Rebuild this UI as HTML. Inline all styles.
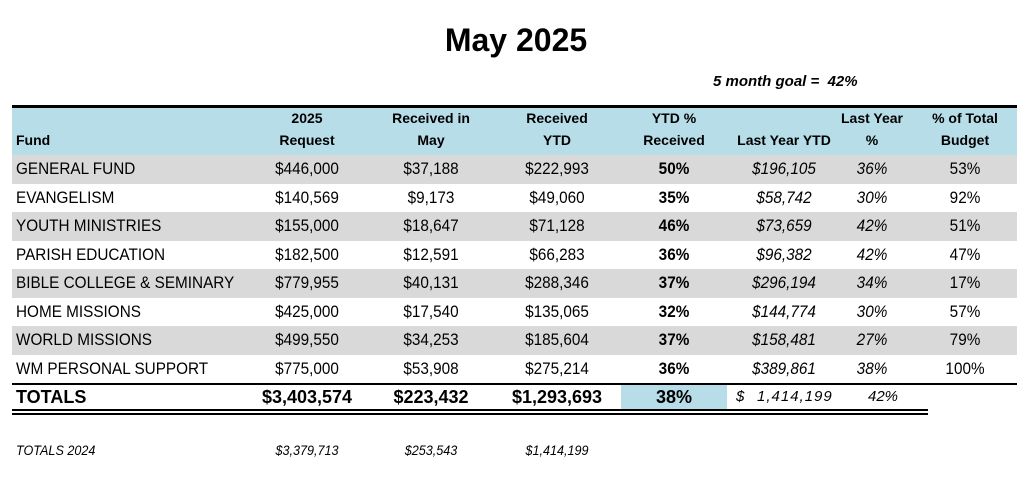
<!DOCTYPE html>
<html><head><meta charset="utf-8"><style>
body{margin:0;width:1032px;height:477px;background:#fff;position:relative;overflow:hidden;font-family:"Liberation Sans",sans-serif;}
.a{position:absolute;white-space:nowrap}
.t{position:absolute;left:0;width:1032px;text-align:center;top:22px;font:bold 32px "Liberation Sans",sans-serif}
.row{position:absolute;left:12px;width:1005px;height:28.5px}
.c{position:absolute;top:0;line-height:28.5px;font-size:17px;white-space:nowrap;transform:translateX(-50%) scaleX(.9)}
.l{position:absolute;top:0;left:4px;line-height:28.5px;font-size:17px;white-space:nowrap;transform:scaleX(.9);transform-origin:left}
.h{position:absolute;font:bold 14px "Liberation Sans",sans-serif;text-align:center;line-height:22px;transform:translateX(-50%)}
</style></head><body>
<div class="t">May 2025</div>
<div class="a" style="left:713px;top:73px;font:italic bold 15px 'Liberation Sans',sans-serif">5 month goal =&nbsp; 42%</div>
<div class="a" style="left:12px;top:105px;width:1005px;height:49px;background:#b7dde8;border-top:3px solid #000;border-bottom:3px solid #000"></div>
<div class="h" style="left:16px;top:129px;transform:none">Fund</div>
<div class="h" style="left:307px;top:107px">2025<br>Request</div>
<div class="h" style="left:431px;top:107px">Received in<br>May</div>
<div class="h" style="left:557px;top:107px">Received<br>YTD</div>
<div class="h" style="left:674px;top:107px">YTD %<br>Received</div>
<div class="h" style="left:784px;top:129px">Last Year YTD</div>
<div class="h" style="left:872px;top:107px">Last Year<br>%</div>
<div class="h" style="left:965px;top:107px">% of Total<br>Budget</div>

<div class="row" style="top:155px;background:#d9d9d9"></div>
<div class="row" style="top:212px;background:#d9d9d9"></div>
<div class="row" style="top:269px;background:#d9d9d9"></div>
<div class="row" style="top:326px;background:#d9d9d9"></div>

<div style="position:absolute;left:0;top:155px">
<div class="row" style="top:0"><span class="l">GENERAL FUND</span><span class="c" style="left:295px">$446,000</span><span class="c" style="left:419px">$37,188</span><span class="c" style="left:545px">$222,993</span><b class="c" style="left:662px">50%</b><i class="c" style="left:772px">$196,105</i><i class="c" style="left:860px">36%</i><span class="c" style="left:953px">53%</span></div>
<div class="row" style="top:28.5px"><span class="l">EVANGELISM</span><span class="c" style="left:295px">$140,569</span><span class="c" style="left:419px">$9,173</span><span class="c" style="left:545px">$49,060</span><b class="c" style="left:662px">35%</b><i class="c" style="left:772px">$58,742</i><i class="c" style="left:860px">30%</i><span class="c" style="left:953px">92%</span></div>
<div class="row" style="top:57px"><span class="l">YOUTH MINISTRIES</span><span class="c" style="left:295px">$155,000</span><span class="c" style="left:419px">$18,647</span><span class="c" style="left:545px">$71,128</span><b class="c" style="left:662px">46%</b><i class="c" style="left:772px">$73,659</i><i class="c" style="left:860px">42%</i><span class="c" style="left:953px">51%</span></div>
<div class="row" style="top:85.5px"><span class="l">PARISH EDUCATION</span><span class="c" style="left:295px">$182,500</span><span class="c" style="left:419px">$12,591</span><span class="c" style="left:545px">$66,283</span><b class="c" style="left:662px">36%</b><i class="c" style="left:772px">$96,382</i><i class="c" style="left:860px">42%</i><span class="c" style="left:953px">47%</span></div>
<div class="row" style="top:114px"><span class="l">BIBLE COLLEGE &amp; SEMINARY</span><span class="c" style="left:295px">$779,955</span><span class="c" style="left:419px">$40,131</span><span class="c" style="left:545px">$288,346</span><b class="c" style="left:662px">37%</b><i class="c" style="left:772px">$296,194</i><i class="c" style="left:860px">34%</i><span class="c" style="left:953px">17%</span></div>
<div class="row" style="top:142.5px"><span class="l">HOME MISSIONS</span><span class="c" style="left:295px">$425,000</span><span class="c" style="left:419px">$17,540</span><span class="c" style="left:545px">$135,065</span><b class="c" style="left:662px">32%</b><i class="c" style="left:772px">$144,774</i><i class="c" style="left:860px">30%</i><span class="c" style="left:953px">57%</span></div>
<div class="row" style="top:171px"><span class="l">WORLD MISSIONS</span><span class="c" style="left:295px">$499,550</span><span class="c" style="left:419px">$34,253</span><span class="c" style="left:545px">$185,604</span><b class="c" style="left:662px">37%</b><i class="c" style="left:772px">$158,481</i><i class="c" style="left:860px">27%</i><span class="c" style="left:953px">79%</span></div>
<div class="row" style="top:199.5px"><span class="l">WM PERSONAL SUPPORT</span><span class="c" style="left:295px">$775,000</span><span class="c" style="left:419px">$53,908</span><span class="c" style="left:545px">$275,214</span><b class="c" style="left:662px">36%</b><i class="c" style="left:772px">$389,861</i><i class="c" style="left:860px">38%</i><span class="c" style="left:953px">100%</span></div>
</div>

<div class="a" style="left:12px;top:383px;width:1005px;border-top:2px solid #000"></div>
<div class="a" style="left:621px;top:385px;width:106px;height:25px;background:#b7dde8"></div>
<div class="a" style="left:12px;top:409px;width:916px;height:2px;border-top:2px solid #000;border-bottom:2px solid #000"></div>
<div style="position:absolute;left:0;top:384px;font:bold 18px 'Liberation Sans',sans-serif;line-height:26px">
<span class="a" style="left:16px">TOTALS</span>
<span class="a" style="left:307px;transform:translateX(-50%)">$3,403,574</span>
<span class="a" style="left:431px;transform:translateX(-50%)">$223,432</span>
<span class="a" style="left:557px;transform:translateX(-50%)">$1,293,693</span>
<span class="a" style="left:674px;transform:translateX(-50%)">38%</span>
</div>
<div style="position:absolute;left:0;top:384px;font:italic 15px 'Liberation Sans',sans-serif;line-height:26px">
<span class="a" style="left:736px">$</span>
<span class="a" style="left:757px;letter-spacing:1px">1,414,199</span>
<span class="a" style="left:868px">42%</span>
</div>
<div style="position:absolute;left:0;top:441px;font:italic 14px 'Liberation Sans',sans-serif;line-height:18px">
<span class="a" style="left:16px;transform:scaleX(.9);transform-origin:left">TOTALS 2024</span>
<span class="a" style="left:307px;transform:translateX(-50%) scaleX(.9)">$3,379,713</span>
<span class="a" style="left:431px;transform:translateX(-50%) scaleX(.9)">$253,543</span>
<span class="a" style="left:557px;transform:translateX(-50%) scaleX(.9)">$1,414,199</span>
</div>
</body></html>
